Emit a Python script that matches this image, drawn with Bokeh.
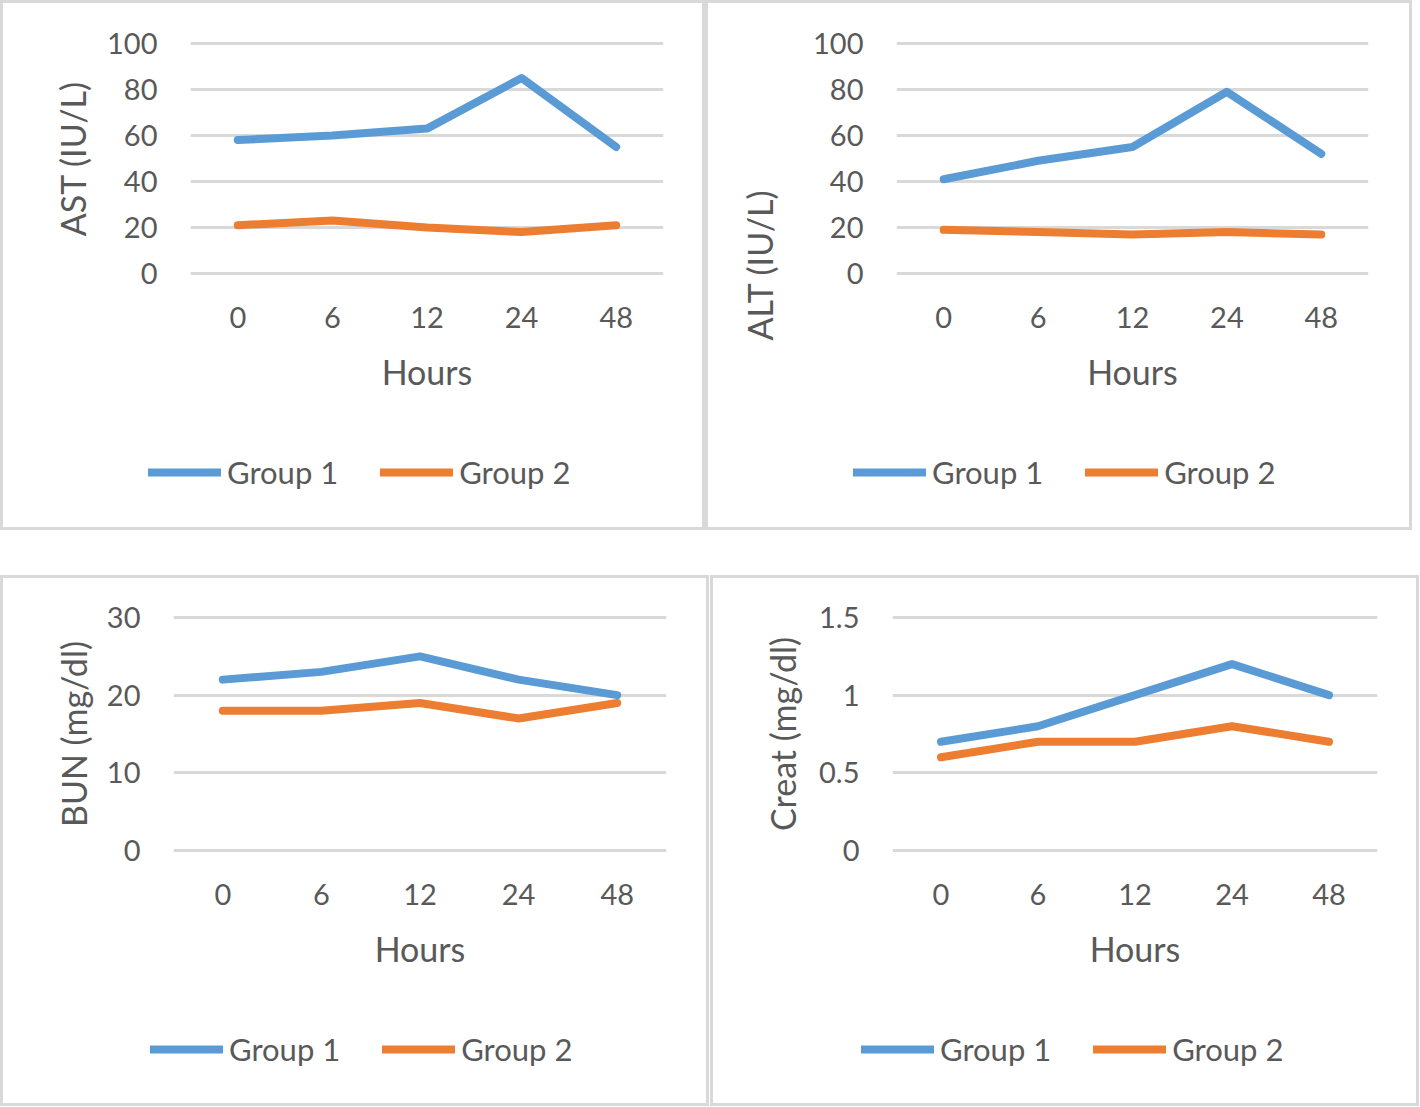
from bokeh.plotting import figure
from bokeh.models import (FactorRange, Range1d, FixedTicker, NumeralTickFormatter,
                          Legend, LegendItem, Title)
from bokeh.layouts import row, column
from bokeh.embed import file_html
from bokeh.resources import INLINE

# ---------------- data ----------------
hours = ["0", "6", "12", "24", "48"]

ast_g1 = [58, 60, 63, 85, 55]
ast_g2 = [21, 23, 20, 18, 21]
alt_g1 = [41, 49, 55, 79, 52]
alt_g2 = [19, 18, 17, 18, 17]
bun_g1 = [22, 23, 25, 22, 20]
bun_g2 = [18, 18, 19, 17, 19]
creat_g1 = [0.7, 0.8, 1.0, 1.2, 1.0]
creat_g2 = [0.6, 0.7, 0.7, 0.8, 0.7]

ast_ticks = [0, 20, 40, 60, 80, 100]
alt_ticks = [0, 20, 40, 60, 80, 100]
bun_ticks = [0, 10, 20, 30]
creat_ticks = [0, 0.5, 1, 1.5]

series_names = ["Group 1", "Group 2"]
x_title = "Hours"

# ---------------- style ----------------
BLUE = "#5b9bd5"
ORANGE = "#ed7d31"
TEXT = "#595959"
GRID = "#d9d9d9"
FONT = "Lato"
LW = 8

TOP_BORDER = {"box-shadow": f"inset 3px 3px 0 0 {GRID}, inset -3px 0 0 0 {GRID}"}
BOTTOM_BORDER = {"box-shadow": f"inset 3px -3px 0 0 {GRID}, inset -3px 0 0 0 {GRID}"}


def chart(width, height, borders, y_lo, y_hi, ticks, fmt, g1, g2, ytitle, ytitle_standoff):
    left, right, top, bottom = borders
    p = figure(width=width, height=height,
               x_range=FactorRange(factors=hours, range_padding=0),
               y_range=Range1d(y_lo, y_hi), output_backend="svg", toolbar_location=None,
               min_border_left=left, min_border_right=right, min_border_top=top,
               min_border_bottom=bottom)
    p.styles = TOP_BORDER
    p.outline_line_color = None
    p.background_fill_alpha = 0
    p.border_fill_alpha = 0

    p.xgrid.grid_line_color = None
    p.ygrid.grid_line_color = GRID
    p.ygrid.grid_line_width = 3
    p.yaxis.ticker = FixedTicker(ticks=ticks)
    p.ygrid.ticker = FixedTicker(ticks=ticks)
    if fmt is not None:
        p.yaxis.formatter = fmt

    for ax in (p.xaxis[0], p.yaxis[0]):
        ax.axis_line_color = None
        ax.major_tick_line_color = None
        ax.minor_tick_line_color = None
        ax.major_tick_out = 0
        ax.major_tick_in = 0
        ax.major_label_text_font = FONT
        ax.major_label_text_font_size = "29px"
        ax.major_label_text_color = TEXT
        ax.axis_label_text_font = FONT
        ax.axis_label_text_font_size = "34px"
        ax.axis_label_text_font_style = "normal"
        ax.axis_label_text_color = TEXT
    p.yaxis.major_label_standoff = 33
    p.xaxis.major_label_standoff = 30

    p.xaxis.axis_label = x_title
    p.xaxis.axis_label_standoff = 20
    if ytitle_standoff is not None:
        p.yaxis.axis_label = ytitle
        p.yaxis.axis_label_standoff = ytitle_standoff
    else:
        # this panel's title sits low, next to the lower part of the axis
        p.add_layout(Title(text=ytitle, align="left", offset=-64, vertical_align="bottom",
                           standoff=62, text_font=FONT, text_font_size="34px",
                           text_font_style="normal", text_color=TEXT), "left")

    p.line(x=hours, y=g1, line_color=BLUE, line_width=LW, line_cap="round", line_join="round")
    p.line(x=hours, y=g2, line_color=ORANGE, line_width=LW, line_cap="round", line_join="round")
    return p


def legend_strip(width, height, g1, g2, loc, spacing):
    # strip under the chart holding the legend; the series lie outside its view
    q = figure(width=width, height=height,
               x_range=FactorRange(factors=hours, range_padding=0), y_range=Range1d(-3, -2),
               output_backend="svg", toolbar_location=None, x_axis_location=None,
               y_axis_location=None, min_border_left=0, min_border_right=0,
               min_border_top=0, min_border_bottom=0)
    try:
        q.frame_align = False
    except Exception:
        pass
    q.styles = BOTTOM_BORDER
    q.grid.visible = False
    q.outline_line_color = None
    q.background_fill_alpha = 0
    q.border_fill_alpha = 0
    r1 = q.line(x=hours, y=g1, line_color=BLUE, line_width=LW, line_cap="round")
    r2 = q.line(x=hours, y=g2, line_color=ORANGE, line_width=LW, line_cap="round")
    legend = Legend(items=[LegendItem(label=series_names[0], renderers=[r1]),
                           LegendItem(label=series_names[1], renderers=[r2])],
                    orientation="horizontal", location=loc, padding=0, margin=0,
                    border_line_color=None, background_fill_alpha=0,
                    glyph_width=73, glyph_height=36, label_height=36, label_standoff=6,
                    spacing=spacing, label_text_font=FONT,
                    label_text_font_size="31px", label_text_color=TEXT)
    q.add_layout(legend)
    return q


def boxed(chart_fig, legend_fig):
    return column(chart_fig, legend_fig, spacing=0)


# top-left: AST
c1 = chart(705, 430, (190, 42, 40, 154), -1.304, 101.304, ast_ticks, None,
           ast_g1, ast_g2, "AST (IU/L)", 11)
l1 = legend_strip(705, 100, ast_g1, ast_g2, (148, 39), 42)
# top-right: ALT
c2 = chart(707, 430, (191, 44, 40, 154), -1.304, 101.304, alt_ticks, None,
           alt_g1, alt_g2, "ALT (IU/L)", None)
l2 = legend_strip(707, 100, alt_g1, alt_g2, (148, 39), 42)
# bottom-left: BUN
c3 = chart(709, 430, (173, 43, 39, 152), -0.386, 30.386, bun_ticks, None,
           bun_g1, bun_g2, "BUN (mg/dl)", 10)
l3 = legend_strip(709, 101, bun_g1, bun_g2, (150, 38), 42)
# bottom-right: Creat
c4 = chart(709, 430, (182, 42, 39, 152), -0.0193, 1.5193, creat_ticks,
           NumeralTickFormatter(format="0.[0]"),
           creat_g1, creat_g2, "Creat (mg/dl)", 13)
l4 = legend_strip(709, 101, creat_g1, creat_g2, (151, 38), 42)

layout = column(row(boxed(c1, l1), boxed(c2, l2), spacing=0),
                row(boxed(c3, l3), boxed(c4, l4), spacing=1), spacing=45)

open("out.html", "w").write(file_html(layout, INLINE))
